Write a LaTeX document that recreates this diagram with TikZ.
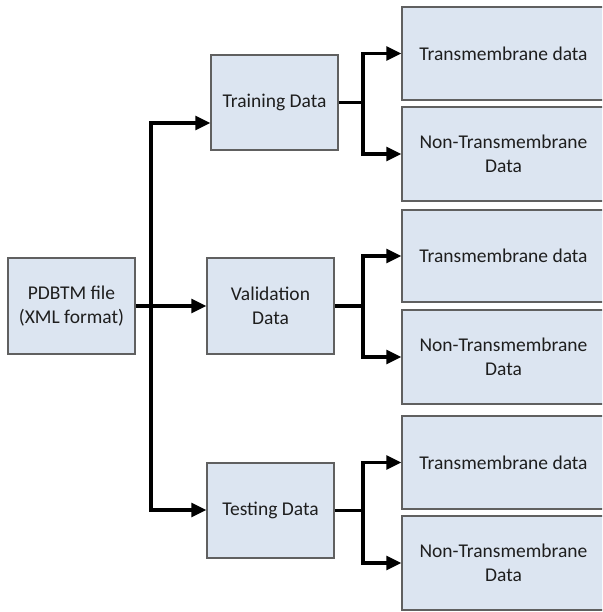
\documentclass[tikz,border=0pt]{standalone}
\usepackage{fontspec}
\setmainfont{Carlito}
\usetikzlibrary{arrows.meta,calc}
\definecolor{boxfill}{HTML}{DCE5F1}
\definecolor{boxline}{HTML}{606060}
\definecolor{txt}{HTML}{1E1E1E}
\begin{document}
\begin{tikzpicture}[x=1pt,y=-1pt,
  box/.style={draw=boxline,line width=1.5pt,fill=boxfill,inner sep=0pt,align=center,
    text=txt,font=\fontsize{19.5}{23.5}\selectfont},
  conn/.style={line width=3.2pt,black,line join=miter},
  tip/.style={-{Triangle[length=15pt,width=14pt]}},
  tips/.style={{Triangle[length=15pt,width=14pt]}-{Triangle[length=15pt,width=14pt]}}]
\useasboundingbox (0,0) rectangle (602,612);
\clip (0,0) rectangle (602,612);
\fill[white] (0,0) rectangle (602,612);
% left and middle boxes
\node[box,minimum width=127pt,minimum height=96pt] (pdb) at (71.5,306) {PDBTM file\\(XML format)};
\node[box,minimum width=127pt,minimum height=95pt] (train) at (274.5,102.5) {Training Data};
\node[box,minimum width=127pt,minimum height=96pt] (valid) at (270.5,306) {Validation\\Data};
\node[box,minimum width=127pt,minimum height=95pt] (test) at (270.5,510.5) {Testing Data};
% right boxes
\node[box,minimum width=203pt,minimum height=93pt] (t1) at (503.5,53.5) {Transmembrane data};
\node[box,minimum width=203pt,minimum height=94pt] (n1) at (503.5,154) {Non-Transmembrane\\Data};
\node[box,minimum width=203pt,minimum height=92pt] (t2) at (503.5,256) {Transmembrane data};
\node[box,minimum width=203pt,minimum height=94pt] (n2) at (503.5,357) {Non-Transmembrane\\Data};
\node[box,minimum width=203pt,minimum height=93pt] (t3) at (503.5,462.5) {Transmembrane data};
\node[box,minimum width=203pt,minimum height=94pt] (n3) at (503.5,563) {Non-Transmembrane\\Data};
% trunk
\coordinate (trtop) at (151,123);
\coordinate (trbot) at (151,510);
\draw[conn,tips] (train.west |- trtop) -- (trtop) -- (trbot) -- (test.west |- trbot);
\draw[conn,tip] (pdb.east) -- (valid.west);
% branches
\coordinate (b1) at (363,102.5);
\coordinate (b2) at (363,306);
\coordinate (b3) at (363,510.5);
\draw[conn] (train.east) -- (b1);
\draw[conn,tips] (t1.west) -| (b1) |- (n1.west);
\draw[conn] (valid.east) -- (b2);
\draw[conn,tips] (t2.west) -| (b2) |- (n2.west);
\draw[conn] (test.east) -- (b3);
\draw[conn,tips] (t3.west) -| (b3) |- (n3.west);
\end{tikzpicture}
\end{document}
